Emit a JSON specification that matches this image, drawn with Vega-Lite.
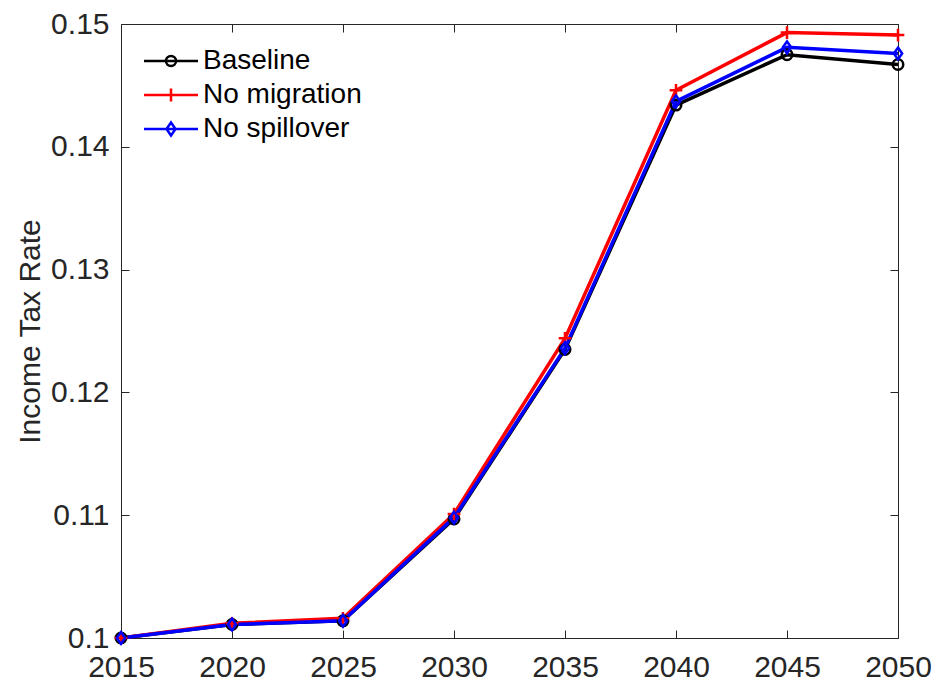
{
  "$schema": "https://vega.github.io/schema/vega-lite/v6.json",
  "width": 777,
  "height": 614,
  "padding": {"left": 121, "top": 24, "right": 40, "bottom": 45},
  "autosize": {"type": "none"},
  "background": "white",
  "config": {
    "font": "Liberation Sans",
    "view": {"stroke": "#262626", "strokeWidth": 1},
    "axis": {
      "grid": false,
      "domain": false,
      "tickSize": -8,
      "tickColor": "#262626",
      "tickWidth": 1,
      "labelColor": "#262626",
      "labelFont": "Liberation Sans",
      "labelFontSize": 30,
      "titleFont": "Liberation Sans",
      "titleFontSize": 30,
      "titleFontWeight": "normal",
      "titleColor": "#262626"
    }
  },
  "data": {
    "values": [
      {"year": 2015, "series": "Baseline", "rate": 0.1},
      {"year": 2020, "series": "Baseline", "rate": 0.1011},
      {"year": 2025, "series": "Baseline", "rate": 0.1014},
      {"year": 2030, "series": "Baseline", "rate": 0.1097},
      {"year": 2035, "series": "Baseline", "rate": 0.1235},
      {"year": 2040, "series": "Baseline", "rate": 0.1434},
      {"year": 2045, "series": "Baseline", "rate": 0.1475},
      {"year": 2050, "series": "Baseline", "rate": 0.1467},
      {"year": 2015, "series": "No migration", "rate": 0.1},
      {"year": 2020, "series": "No migration", "rate": 0.1012},
      {"year": 2025, "series": "No migration", "rate": 0.1016},
      {"year": 2030, "series": "No migration", "rate": 0.1101},
      {"year": 2035, "series": "No migration", "rate": 0.1244},
      {"year": 2040, "series": "No migration", "rate": 0.1446},
      {"year": 2045, "series": "No migration", "rate": 0.1493},
      {"year": 2050, "series": "No migration", "rate": 0.1491},
      {"year": 2015, "series": "No spillover", "rate": 0.1},
      {"year": 2020, "series": "No spillover", "rate": 0.1011},
      {"year": 2025, "series": "No spillover", "rate": 0.1014},
      {"year": 2030, "series": "No spillover", "rate": 0.1098},
      {"year": 2035, "series": "No spillover", "rate": 0.1236},
      {"year": 2040, "series": "No spillover", "rate": 0.1437},
      {"year": 2045, "series": "No spillover", "rate": 0.1481},
      {"year": 2050, "series": "No spillover", "rate": 0.1476}
    ]
  },
  "layer": [
    {
      "mark": {"type": "line", "strokeWidth": 3.5, "clip": false},
      "encoding": {
        "x": {
          "field": "year",
          "type": "quantitative",
          "scale": {"domain": [2015, 2050], "nice": false, "zero": false},
          "axis": {"orient": "bottom", "values": [2015, 2020, 2025, 2030, 2035, 2040, 2045, 2050], "format": "d", "title": null, "labelPadding": 22, "labelFlush": false}
        },
        "y": {
          "field": "rate",
          "type": "quantitative",
          "scale": {"domain": [0.1, 0.15], "nice": false, "zero": false},
          "axis": {"orient": "left", "values": [0.1, 0.11, 0.12, 0.13, 0.14, 0.15], "format": ".2~f", "title": "Income Tax Rate", "labelPadding": 20, "titlePadding": 5, "labelFlush": false}
        },
        "color": {
          "field": "series",
          "type": "nominal",
          "scale": {"domain": ["Baseline", "No migration", "No spillover"], "range": ["#000000", "#ff0000", "#0000ff"]},
          "legend": {
            "orient": "none",
            "legendX": 36,
            "legendY": 23,
            "title": null,
            "padding": 0,
            "rowPadding": 6,
            "labelFont": "Liberation Sans",
            "labelFontSize": 28,
            "labelColor": "#000000",
            "labelOffset": 18,
            "symbolSize": 400,
            "symbolStrokeWidth": 2.5,
            "encode": {
              "symbols": {
                "update": {
                  "shape": {"signal": "datum.value === 'Baseline' ? 'M-2.7,0L2.7,0M0.5,0A0.5,0.5 0 1,1 -0.5,0A0.5,0.5 0 1,1 0.5,0' : datum.value === 'No migration' ? 'M-2.7,0L2.7,0M0,-0.65L0,0.65' : 'M-2.7,0L2.7,0M0,-0.65L0.45,0L0,0.65L-0.45,0Z'"},
                  "fill": {"value": "transparent"},
                  "size": {"value": 400},
                  "strokeWidth": {"value": 2.5}
                }
              }
            }
          }
        }
      }
    },
    {
      "transform": [{"filter": "datum.series === 'Baseline'"}],
      "mark": {"type": "point", "shape": "circle", "filled": false, "strokeWidth": 2.5, "opacity": 1, "size": 110, "clip": false},
      "encoding": {
        "x": {
          "field": "year",
          "type": "quantitative",
          "axis": {"orient": "top", "values": [2015, 2020, 2025, 2030, 2035, 2040, 2045, 2050], "labels": false, "title": null}
        },
        "y": {
          "field": "rate",
          "type": "quantitative",
          "axis": {"orient": "right", "values": [0.1, 0.11, 0.12, 0.13, 0.14, 0.15], "labels": false, "title": null}
        },
        "color": {"field": "series", "type": "nominal", "legend": null}
      }
    },
    {
      "transform": [{"filter": "datum.series === 'No migration'"}],
      "mark": {"type": "point", "shape": "M-1,0L1,0M0,-1L0,1", "filled": false, "strokeWidth": 2.5, "opacity": 1, "size": 160, "clip": false},
      "encoding": {
        "x": {"field": "year", "type": "quantitative", "axis": null},
        "y": {"field": "rate", "type": "quantitative", "axis": null},
        "color": {"field": "series", "type": "nominal", "legend": null}
      }
    },
    {
      "transform": [{"filter": "datum.series === 'No spillover'"}],
      "mark": {"type": "point", "shape": "M0,-1L0.7,0L0,1L-0.7,0Z", "filled": false, "strokeWidth": 2.5, "opacity": 1, "size": 140, "clip": false},
      "encoding": {
        "x": {"field": "year", "type": "quantitative", "axis": null},
        "y": {"field": "rate", "type": "quantitative", "axis": null},
        "color": {"field": "series", "type": "nominal", "legend": null}
      }
    }
  ],
  "resolve": {"axis": {"x": "independent", "y": "independent"}}
}
